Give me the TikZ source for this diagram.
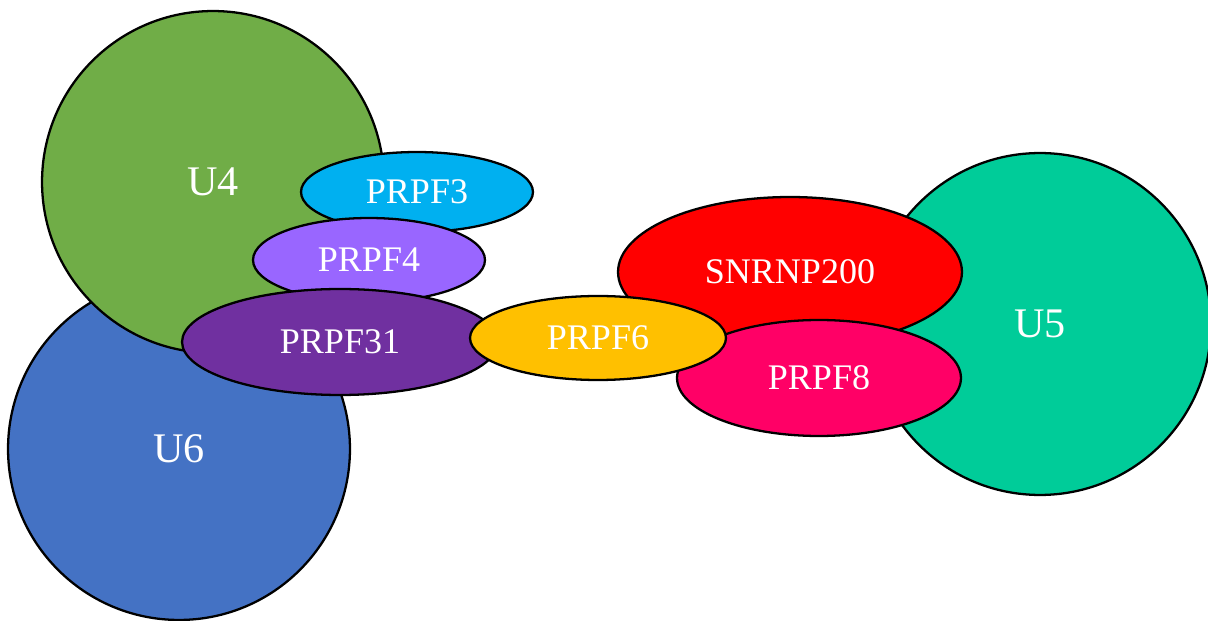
\documentclass[tikz,border=0pt]{standalone}
\usepackage{fontspec}
\setmainfont{Liberation Serif}
\usetikzlibrary{shapes.geometric}

\definecolor{greenU}{HTML}{70AD47}
\definecolor{blueU}{HTML}{4472C4}
\definecolor{tealU}{HTML}{00CC99}
\definecolor{cyanP}{HTML}{00B0F0}
\definecolor{lilacP}{HTML}{9966FF}
\definecolor{purpleP}{HTML}{7030A0}
\definecolor{amberP}{HTML}{FFC000}
\definecolor{redP}{HTML}{FF0000}
\definecolor{pinkP}{HTML}{FF0066}

\begin{document}
\begin{tikzpicture}[x=0.02cm,y=-0.02cm,
  snrna/.style={circle,draw=black,line width=1.3pt,inner sep=0pt,minimum size=6.84cm,text=white,font=\fontsize{24}{28}\selectfont},
  protein/.style={ellipse,draw=black,line width=1.3pt,inner sep=0pt,text=white,font=\fontsize{20.5}{24}\selectfont}]

%FRAME
\useasboundingbox (0,0) rectangle (1208,621);
%FRAME

\node[snrna,fill=blueU](u6) at (179,449) {U6};
\node[snrna,fill=greenU](u4) at (213,182) {U4};

\node[protein,fill=cyanP,minimum width=4.64cm,minimum height=1.6cm](p3) at (417,192) {PRPF3};
\node[protein,fill=lilacP,minimum width=4.64cm,minimum height=1.68cm](p4) at (369,260) {PRPF4};
\node[protein,fill=purpleP,minimum width=6.32cm,minimum height=2.12cm](p31) at (340,342) {PRPF31};

\node[snrna,fill=tealU](u5) at (1040,324) {U5};

\node[protein,fill=redP,minimum width=6.88cm,minimum height=3cm](snr) at (790,272) {SNRNP200};
\node[protein,fill=pinkP,minimum width=5.68cm,minimum height=2.32cm](p8) at (819,378) {PRPF8};
\node[protein,fill=amberP,minimum width=5.12cm,minimum height=1.68cm](p6) at (598,338) {PRPF6};

\end{tikzpicture}
\end{document}
